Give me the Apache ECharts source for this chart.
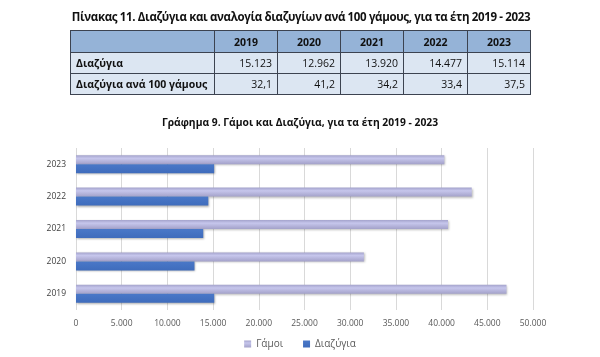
<!DOCTYPE html>
<html>
<head>
<meta charset="utf-8">
<script src="https://cdn.jsdelivr.net/npm/echarts@6/dist/echarts.min.js"></script>
<style>
html,body{margin:0;padding:0;background:#fff;}
#wrap{position:relative;width:600px;height:357px;overflow:hidden;}
#chart{position:absolute;left:0;top:0;width:600px;height:357px;}
#ttl{position:absolute;left:0;top:9px;width:602px;text-align:center;font:bold 11.5px "Open Sans",sans-serif;color:#111;letter-spacing:-0.35px;z-index:2;}
#tbl{position:absolute;left:70px;top:30px;border-collapse:collapse;z-index:2;font:10.5px "Open Sans",sans-serif;color:#111;}
#tbl td{border:1px solid #3c4350;padding:0 5px;height:20px;text-align:right;background:#dce6f2;}
#tbl tr.h td{background:#95b3d7;font-weight:bold;text-align:center;}
#tbl td.l{text-align:left;font-weight:bold;}
</style>
</head>
<body>
<div id="wrap">
<div id="chart"></div>
<div id="ttl"></div>
<table id="tbl"></table>
</div>
<script>
const tableTitle = 'Πίνακας 11. Διαζύγια και αναλογία διαζυγίων ανά 100 γάμους, για τα έτη 2019 - 2023';
const chartTitle = 'Γράφημα 9. Γάμοι και Διαζύγια, για τα έτη 2019 - 2023';
const years = ['2019', '2020', '2021', '2022', '2023'];
const rowLabels = ['Διαζύγια', 'Διαζύγια ανά 100 γάμους'];
const divorcesText = ['15.123', '12.962', '13.920', '14.477', '15.114'];
const ratioText = ['32,1', '41,2', '34,2', '33,4', '37,5'];
const divorces = [15123, 12962, 13920, 14477, 15114];
const marriages = [47100, 31500, 40700, 43300, 40300];
const seriesNames = ['Γάμοι', 'Διαζύγια'];

document.getElementById('ttl').textContent = tableTitle;
const colW = [144, 63, 63, 63, 64, 63];
let html = '<tr class="h"><td style="width:' + (colW[0]-11) + 'px;height:21px"></td>' +
  years.map((y, i) => '<td style="width:' + (colW[i+1]-11) + 'px">' + y + '</td>').join('') + '</tr>';
[divorcesText, ratioText].forEach((row, r) => {
  html += '<tr><td class="l">' + rowLabels[r] + '</td>' + row.map(v => '<td>' + v + '</td>').join('') + '</tr>';
});
document.getElementById('tbl').innerHTML = html;

const chart = echarts.init(document.getElementById('chart'));
const fmt = v => String(v).replace(/\B(?=(\d{3})+(?!\d))/g, '.');
chart.setOption({
  animation: false,
  title: {
    text: chartTitle, left: 'center', top: 113,
    textStyle: {fontFamily: 'Open Sans', fontWeight: 'bold', fontSize: 10.3, color: '#111'}
  },
  legend: {
    data: seriesNames, bottom: 3, left: 'center', icon: 'rect', itemWidth: 7, itemHeight: 7, itemGap: 20,
    textStyle: {fontFamily: 'Open Sans', fontSize: 10, color: '#595959'}
  },
  grid: {left: 76, right: 67, top: 148, bottom: 47, containLabel: false},
  xAxis: {
    type: 'value', min: 0, max: 50000, interval: 5000,
    axisLabel: {formatter: fmt, fontFamily: 'Open Sans', fontSize: 8.5, color: '#595959', margin: 9},
    splitLine: {lineStyle: {color: '#d9d9d9'}},
    axisLine: {show: false}, axisTick: {show: false}
  },
  yAxis: {
    type: 'category', data: years,
    axisLabel: {fontFamily: 'Open Sans', fontSize: 8.5, color: '#404040', margin: 10},
    axisLine: {show: false}, axisTick: {show: false}, splitLine: {show: false}
  },
  series: [
    {
      name: seriesNames[0], type: 'bar', data: marriages, barWidth: 9, barGap: '0%',
      itemStyle: {
        color: new echarts.graphic.LinearGradient(0, 0, 0, 1, [
          {offset: 0, color: '#a4a3cc'}, {offset: 0.35, color: '#c6c6ec'}, {offset: 1, color: '#a3a1c9'}
        ]),
        shadowColor: 'rgba(0,0,0,0.25)', shadowBlur: 2, shadowOffsetX: 1, shadowOffsetY: 1
      }
    },
    {
      name: seriesNames[1], type: 'bar', data: divorces, barWidth: 9, barGap: '0%',
      itemStyle: {
        color: new echarts.graphic.LinearGradient(0, 0, 0, 1, [
          {offset: 0, color: '#4a78c8'}, {offset: 1, color: '#3f6cbc'}
        ]),
        shadowColor: 'rgba(0,0,0,0.3)', shadowBlur: 2, shadowOffsetX: 1, shadowOffsetY: 1
      }
    }
  ]
});
</script>
</body>
</html>
